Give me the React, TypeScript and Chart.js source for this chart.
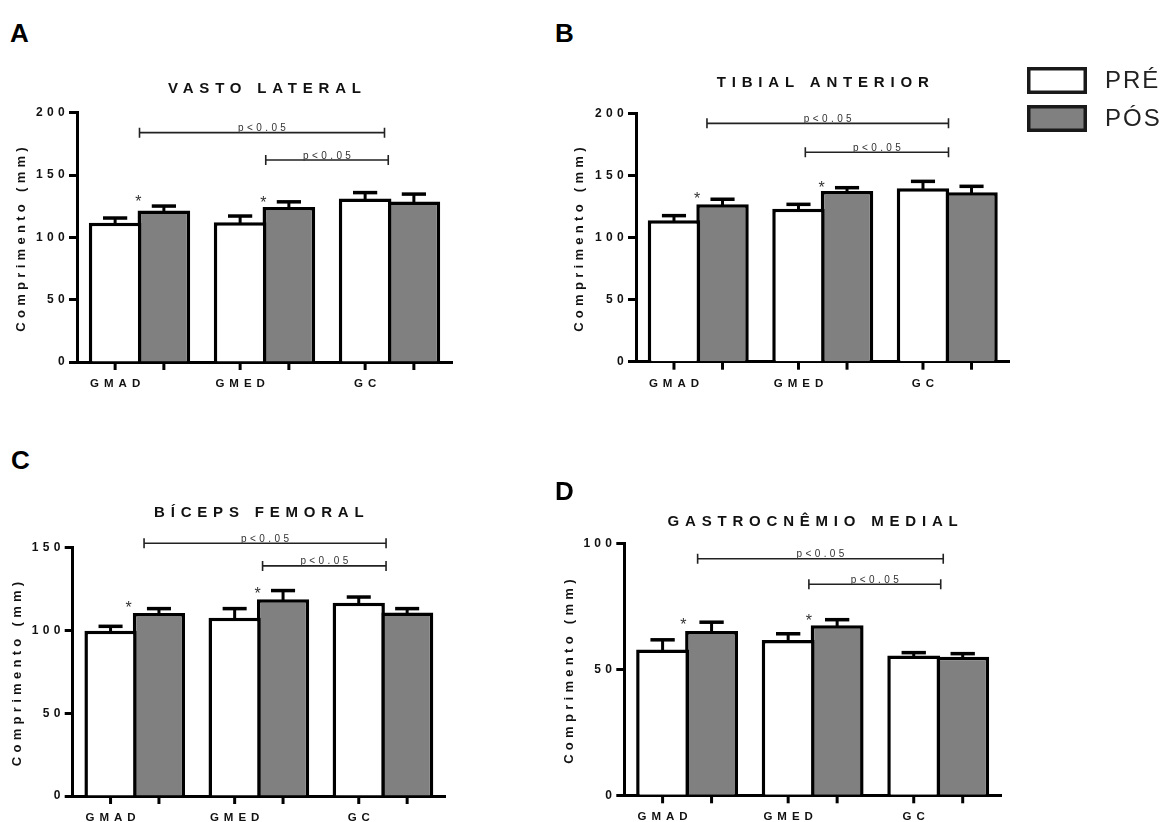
import React, { useEffect, useRef } from 'react';
import { Chart, registerables } from 'chart.js';

Chart.register(...registerables);

const FONT = "'Liberation Sans', Arial, Helvetica, sans-serif";
Chart.defaults.font.family = FONT;

// ---------- data ----------
const categories = ['GMAD', 'GMED', 'GC'];
const seriesNames = ['PRÉ', 'PÓS'];
const yAxisLabel = 'Comprimento (mm)';
const sigLabel = 'p<0.05';
const starLabel = '*';
const panelLetters = ['A', 'B', 'C', 'D'];

// A — Vasto lateral
const vlTitle = 'VASTO LATERAL';
const vlMax = 200;
const vlPre = [111.7, 112.2, 131.1];
const vlPreErr = [3.8, 4.9, 4.8];
const vlPos = [121.5, 124.3, 128.7];
const vlPosErr = [3.6, 4.2, 6.0];
const vlBrackets = [[0.0, 1.96, 184], [1.01, 1.99, 162]];
const vlStarX = [-0.01, 0.99];
const vlStarY = [131.7, 130.9];

// B — Tibial anterior
const taTitle = 'TIBIAL ANTERIOR';
const taMax = 200;
const taPre = [113.8, 123.2, 139.6];
const taPreErr = [3.8, 3.5, 5.6];
const taPos = [126.7, 137.4, 136.4];
const taPosErr = [4.1, 2.7, 4.8];
const taBrackets = [[0.07, 2.01, 191.9], [0.86, 2.01, 168.6]];
const taStarX = [-0.01, 0.99];
const taStarY = [134.2, 143.1];

// C — Bíceps femoral
const bfTitle = 'BÍCEPS FEMORAL';
const bfMax = 150;
const bfPre = [99.9, 107.7, 116.8];
const bfPreErr = [2.6, 5.5, 3.4];
const bfPos = [110.6, 118.9, 110.8];
const bfPosErr = [2.6, 5.2, 2.4];
const bfBrackets = [[0.075, 2.025, 152.7], [1.03, 2.025, 139]];
const bfStarX = [-0.05, 0.99];
const bfStarY = [116.1, 124.3];

// D — Gastrocnêmio medial
const gmTitle = 'GASTROCNÊMIO MEDIAL';
const gmMax = 100;
const gmPre = [57.9, 61.7, 55.6];
const gmPreErr = [3.9, 2.5, 1.1];
const gmPos = [65.3, 67.6, 55.1];
const gmPosErr = [3.5, 2.2, 1.2];
const gmBrackets = [[0.084, 2.04, 94], [0.97, 2.02, 83.9]];
const gmStarX = [-0.03, 0.97];
const gmStarY = [69.4, 70.7];

const yStep = 50;

// ---------- layout (page pixels) ----------
type Layout = {
  left: number; top: number; width: number; height: number;
  areaLeft: number; areaRight: number; areaTop: number; areaBottom: number;
  titleY: number; yTitleX: number; legend?: boolean;
};

const layoutA: Layout = { left: 0, top: 50, width: 470, height: 350, areaLeft: 77, areaRight: 452, areaTop: 112.7, areaBottom: 362, titleY: 87.8, yTitleX: 21 };
const layoutB: Layout = { left: 540, top: 50, width: 623, height: 350, areaLeft: 636, areaRight: 1009.5, areaTop: 113.3, areaBottom: 361.7, titleY: 81.7, yTitleX: 579, legend: true };
const layoutC: Layout = { left: 0, top: 480, width: 470, height: 342, areaLeft: 72.7, areaRight: 445, areaTop: 547.7, areaBottom: 796, titleY: 511.7, yTitleX: 17.5 };
const layoutD: Layout = { left: 540, top: 480, width: 623, height: 342, areaLeft: 624.3, areaRight: 1001, areaTop: 543.7, areaBottom: 795.3, titleY: 520.5, yTitleX: 569 };

const letterPos = [
  { left: 10, top: 20 },
  { left: 555, top: 19.5 },
  { left: 11, top: 447 },
  { left: 555, top: 478 },
];

type PanelProps = {
  title: string; max: number;
  pre: number[]; preErr: number[]; pos: number[]; posErr: number[];
  brackets: number[][]; starX: number[]; starY: number[];
  layout: Layout;
};

function Panel(props: PanelProps) {
  const ref = useRef<HTMLCanvasElement>(null);
  const { layout: L } = props;

  useEffect(() => {
    if (!ref.current) return;
    const aL = L.areaLeft - L.left;
    const aR = L.areaRight - L.left;
    const aT = L.areaTop - L.top;
    const aB = L.areaBottom - L.top;
    const yTitleLH = 13 * 1.2;
    const yTitlePad = L.yTitleX - L.left - yTitleLH / 2;
    const errs = [props.preErr, props.posErr];
    const axisSpacing = '4.3px';

    const spacing = {
      id: 'spacing',
      beforeUpdate(chart: any) { chart.ctx.letterSpacing = axisSpacing; },
      beforeLayout(chart: any) { chart.ctx.letterSpacing = axisSpacing; },
      beforeDraw(chart: any) { chart.ctx.letterSpacing = axisSpacing; },
    };

    const annot = {
      id: 'annot',
      afterDatasetsDraw(chart: any) {
        const ctx = chart.ctx;
        const ys = chart.scales.y;
        ctx.save();
        ctx.strokeStyle = '#000';
        ctx.lineCap = 'butt';
        chart.data.datasets.forEach((ds: any, di: number) => {
          const meta = chart.getDatasetMeta(di);
          meta.data.forEach((bar: any, i: number) => {
            const top = ys.getPixelForValue(ds.data[i] + errs[di][i]);
            const capW = bar.width * 0.46;
            ctx.lineWidth = 3;
            ctx.beginPath();
            ctx.moveTo(bar.x, bar.y + 2);
            ctx.lineTo(bar.x, top);
            ctx.stroke();
            ctx.lineWidth = 3.5;
            ctx.beginPath();
            ctx.moveTo(bar.x - capW / 2, top);
            ctx.lineTo(bar.x + capW / 2, top);
            ctx.stroke();
          });
        });
        ctx.restore();
      },
      afterDraw(chart: any) {
        const ctx = chart.ctx;
        const xs = chart.scales.x;
        const ys = chart.scales.y;
        const area = chart.chartArea;
        const bottom = area.bottom;
        ctx.save();
        // panel title, centred on the plot area
        ctx.letterSpacing = '5.8px';
        ctx.font = `bold 15px ${FONT}`;
        ctx.fillStyle = '#111';
        ctx.textAlign = 'center';
        ctx.textBaseline = 'alphabetic';
        ctx.fillText(props.title, (area.left + area.right) / 2 + 2.9, L.titleY - L.top + 5.4);
        // x tick marks under every bar
        ctx.strokeStyle = '#000';
        ctx.lineWidth = 3;
        [0, 1].forEach((di) => {
          chart.getDatasetMeta(di).data.forEach((bar: any) => {
            ctx.beginPath();
            ctx.moveTo(bar.x, bottom);
            ctx.lineTo(bar.x, bottom + 8);
            ctx.stroke();
          });
        });
        // x labels under PRÉ bars
        ctx.letterSpacing = '5px';
        ctx.font = `bold 11.5px ${FONT}`;
        ctx.fillStyle = '#111';
        ctx.textAlign = 'center';
        ctx.textBaseline = 'alphabetic';
        chart.getDatasetMeta(0).data.forEach((bar: any, i: number) => {
          ctx.fillText(chart.data.labels[i], bar.x + 2.5, bottom + 25);
        });
        // significance brackets
        ctx.letterSpacing = '3.4px';
        ctx.font = `10px ${FONT}`;
        props.brackets.forEach((b) => {
          const x1 = xs.getPixelForValue(b[0]);
          const x2 = xs.getPixelForValue(b[1]);
          const y = ys.getPixelForValue(b[2]);
          ctx.strokeStyle = '#222';
          ctx.lineWidth = 1.6;
          ctx.beginPath();
          ctx.moveTo(x1, y); ctx.lineTo(x2, y);
          ctx.moveTo(x1, y - 5); ctx.lineTo(x1, y + 5);
          ctx.moveTo(x2, y - 5); ctx.lineTo(x2, y + 5);
          ctx.stroke();
          ctx.fillStyle = '#333';
          ctx.textAlign = 'center';
          ctx.fillText(sigLabel, (x1 + x2) / 2 + 1.7, y - 1.5);
        });
        // asterisks
        ctx.letterSpacing = '0px';
        ctx.font = `16px ${FONT}`;
        ctx.fillStyle = '#333';
        props.starX.forEach((sx, i) => {
          const x = xs.getPixelForValue(sx);
          const y = ys.getPixelForValue(props.starY[i]);
          ctx.fillText(starLabel, x, y + 9);
        });
        // legend
        if (L.legend) {
          const boxX = 1027 - L.left;
          const boxTops = [67 - L.top, 105 - L.top];
          const bw = 60, bh = 27, lw = 3.5;
          chart.data.datasets.forEach((ds: any, di: number) => {
            const by = boxTops[di];
            ctx.fillStyle = ds.backgroundColor;
            ctx.fillRect(boxX, by, bw, bh);
            ctx.strokeStyle = '#1a1a1a';
            ctx.lineWidth = lw;
            ctx.strokeRect(boxX + lw / 2, by + lw / 2, bw - lw, bh - lw);
            ctx.letterSpacing = '2px';
            ctx.font = `24px ${FONT}`;
            ctx.fillStyle = '#222';
            ctx.textAlign = 'left';
            ctx.textBaseline = 'middle';
            ctx.fillText(ds.label, 1105 - L.left, by + bh / 2 + 1);
          });
        }
        ctx.restore();
      },
    };

    const chart = new Chart(ref.current, {
      type: 'bar',
      data: {
        labels: categories,
        datasets: [
          { label: seriesNames[0], data: props.pre, backgroundColor: '#ffffff', borderColor: '#000000', borderWidth: 3.5, borderSkipped: 'bottom' },
          { label: seriesNames[1], data: props.pos, backgroundColor: '#808080', borderColor: '#000000', borderWidth: 3.5, borderSkipped: 'bottom' },
        ],
      },
      options: {
        animation: false,
        responsive: false,
        devicePixelRatio: 1,
        layout: { padding: { left: 0, right: L.width - aR, top: aT, bottom: 0 } },
        datasets: { bar: { barPercentage: 1.08, categoryPercentage: 0.78 } },
        plugins: {
          legend: { display: false },
          tooltip: { enabled: false },
          title: { display: false },
        },
        scales: {
          x: {
            type: 'category',
            grid: { display: false },
            border: { display: true, color: '#000', width: 3 },
            ticks: { display: false },
            afterFit: (s: any) => { s.height = L.height - aB; },
          },
          y: {
            min: 0,
            max: props.max,
            ticks: { stepSize: yStep, color: '#111', padding: 0, font: { size: 12, weight: 'bold', family: FONT } },
            grid: { drawOnChartArea: false, drawTicks: true, tickLength: 8, tickWidth: 3, tickColor: '#000' },
            border: { display: true, color: '#000', width: 3 },
            title: {
              display: true,
              text: yAxisLabel,
              color: '#111',
              font: { size: 13, weight: 'bold', family: FONT },
              padding: { top: yTitlePad, bottom: 0 },
            },
            afterFit: (s: any) => { s.width = aL; },
          },
        },
      } as any,
      plugins: [spacing, annot],
    });
    return () => chart.destroy();
  }, []);

  return (
    <canvas
      ref={ref}
      width={L.width}
      height={L.height}
      style={{ position: 'absolute', left: L.left, top: L.top, width: L.width, height: L.height }}
    />
  );
}

export default function App() {
  return (
    <div style={{ position: 'absolute', left: 0, top: 0, width: 1163, height: 822, background: '#fff', overflow: 'hidden' }}>
      <Panel title={vlTitle} max={vlMax} pre={vlPre} preErr={vlPreErr} pos={vlPos} posErr={vlPosErr} brackets={vlBrackets} starX={vlStarX} starY={vlStarY} layout={layoutA} />
      <Panel title={taTitle} max={taMax} pre={taPre} preErr={taPreErr} pos={taPos} posErr={taPosErr} brackets={taBrackets} starX={taStarX} starY={taStarY} layout={layoutB} />
      <Panel title={bfTitle} max={bfMax} pre={bfPre} preErr={bfPreErr} pos={bfPos} posErr={bfPosErr} brackets={bfBrackets} starX={bfStarX} starY={bfStarY} layout={layoutC} />
      <Panel title={gmTitle} max={gmMax} pre={gmPre} preErr={gmPreErr} pos={gmPos} posErr={gmPosErr} brackets={gmBrackets} starX={gmStarX} starY={gmStarY} layout={layoutD} />
      {panelLetters.map((t, i) => (
        <div
          key={t}
          style={{
            position: 'absolute', left: letterPos[i].left, top: letterPos[i].top,
            font: `bold 26px ${FONT}`, lineHeight: '26px', color: '#000',
          }}
        >
          {t}
        </div>
      ))}
    </div>
  );
}
